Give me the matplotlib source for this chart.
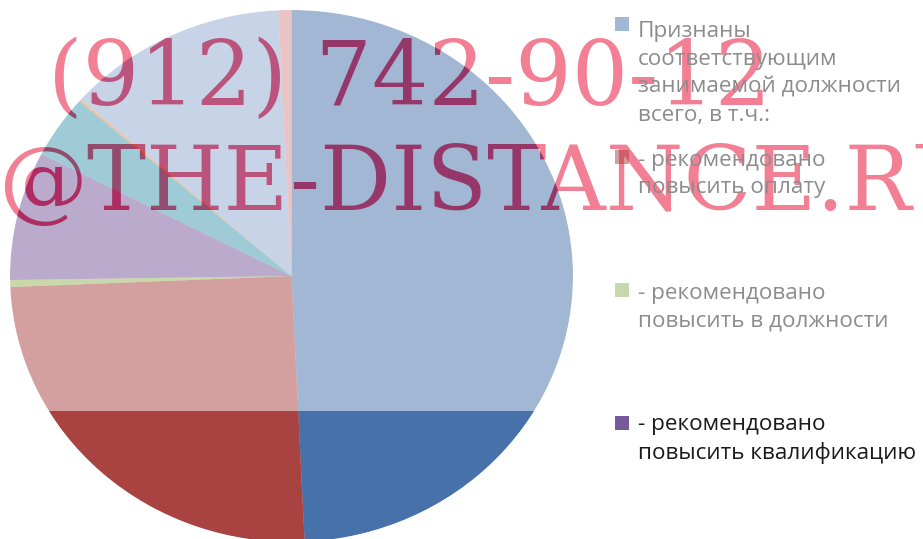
import matplotlib
matplotlib.use('Agg')
import matplotlib.pyplot as plt
import numpy as np
from matplotlib.patches import Rectangle, PathPatch
from matplotlib.path import Path
from matplotlib.transforms import IdentityTransform

W, H = 923, 539

# shares of the pie, clockwise from 12 o'clock (percent)
shares = [49.25, 25.08, 0.42, 7.83, 3.83, 0.14, 12.69, 0.75]
colors = ['#4771A9', '#A94341', '#93B359', '#77599A', '#4199B1', '#E8863A', '#91A9D1', '#D78B8B']

legend_labels = [
    'Признаны\nсоответствующим\nзанимаемой должности\nвсего, в т.ч.:',
    '- рекомендовано\nповысить оплату',
    '- рекомендовано\nповысить в должности',
    '- рекомендовано\nповысить квалификацию',
]
# the slide is caught mid-animation: first entries still faded in
legend_faded = [True, True, True, False]

watermark = ['(912) 742-90-12', '@THE-DISTANCE.RU']

fig = plt.figure(figsize=(W / 100, H / 100), dpi=100)
ax = fig.add_axes([0, 0, 1, 1])

# pie ellipse in pixels (slightly wider than tall in the picture)
cx, cy, rx, ry = 291.5, 276, 281.5, 266

# faded pie (half transparent over the watermark)
faded, _ = ax.pie(shares, colors=colors, startangle=90, counterclock=False,
                  wedgeprops=dict(linewidth=0, alpha=0.5))
# lower part already fully drawn
split = (cy - 411) / ry
clip = Rectangle((-2, -2), 4, split + 2, transform=ax.transData)
solid, _ = ax.pie(shares, colors=colors, startangle=90, counterclock=False,
                  wedgeprops=dict(linewidth=0))
for w in solid:
    w.set_clip_path(clip)
    w.set_clip_on(True)

ax.set_aspect('auto')
ax.set_xlim(-cx / rx, (W - cx) / rx)
ax.set_ylim(-(H - cy) / ry, cy / ry)
ax.axis('off')

# watermark, under the faded pie; a half white veil outside the pie lightens it there
wm_font = dict(family='DejaVu Serif', fontsize=64)
ax.text(48, H - 105, watermark[0], transform=IdentityTransform(), color='#E5002A',
        va='baseline', ha='left', zorder=0.5, **wm_font)
ax.text(-2, H - 210, watermark[1], transform=IdentityTransform(), color='#E5002A',
        va='baseline', ha='left', zorder=0.5, **wm_font)

t = np.linspace(0, 2 * np.pi, 721)
hole = np.column_stack([np.cos(-t), np.sin(-t)])
outer = np.array([[-5, -5], [5, -5], [5, 5], [-5, 5], [-5, -5]])
verts = np.vstack([outer, hole])
codes = ([Path.MOVETO] + [Path.LINETO] * 3 + [Path.CLOSEPOLY]
         + [Path.MOVETO] + [Path.LINETO] * (len(hole) - 2) + [Path.CLOSEPOLY])
ax.add_patch(PathPatch(Path(verts, codes), facecolor='white', edgecolor='none',
                       alpha=0.5, zorder=6))

# legend, drawn by hand; line pitch of 30 px as in the picture
leg_font = dict(family='Open Sans', fontsize=16.2)
renderer = fig.canvas.get_renderer()
probe1 = fig.text(0, 0, 'пр', linespacing=1.0, **leg_font)
probe2 = fig.text(0, 0, 'пр\nпр', linespacing=1.0, **leg_font)
pitch1 = probe2.get_window_extent(renderer).height - probe1.get_window_extent(renderer).height
probe1.remove()
probe2.remove()
line_h = 30
spacing = line_h / pitch1

for i, (lab, col, fade) in enumerate(zip(legend_labels, colors, legend_faded)):
    yc = 24 + 133 * i
    n = lab.count('\n')
    fig.patches.append(Rectangle((615 / W, 1 - (yc + 7) / H), 14 / W, 14 / H,
                                 transform=fig.transFigure, facecolor=col,
                                 alpha=0.5 if fade else 1, edgecolor='none'))
    # the last line sits on the given baseline
    fig.text(638 / W, 1 - (yc + 6.5 + n * line_h) / H, lab, color='#8C8C8C' if fade else '#1A1A1A',
             va='baseline', ha='left', linespacing=spacing, **leg_font)

fig.savefig('out.png', dpi=100)
